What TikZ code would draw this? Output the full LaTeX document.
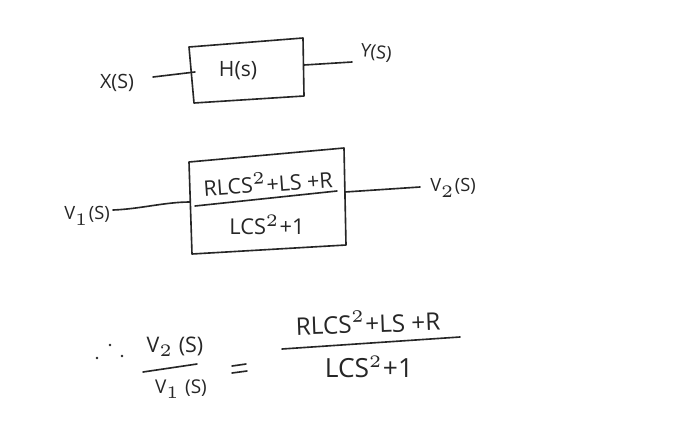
\documentclass[tikz,border=0pt]{standalone}
\usepackage{fontspec}
\setmainfont{Open Sans}
\newcommand{\handsz}[1]{\fontsize{#1}{#1}\selectfont}
\begin{document}
\begin{tikzpicture}[x=0.01cm,y=-0.01cm,
  ink/.style={draw=black!85,line width=0.46pt,line cap=round,line join=round},
  hand/.style={inner sep=0pt,text=black!85}]
\useasboundingbox[fill=white] (0,0) rectangle (700,433);
% first block
\coordinate (a1) at (189,47); \coordinate (a2) at (303,38);
\coordinate (a3) at (304,96); \coordinate (a4) at (194,103);
\draw[ink] (a1) -- (a2) -- (a3) -- (a4) -- cycle;
\node[hand,font=\handsz{6}] (hs) at (238,71) {H(s)};
\node[hand,font=\handsz{5.6}] (xs) at (117,83) {X(S)};
\node[hand,rotate=-6,font=\handsz{5.2}] (ys) at (376,53) {Y(S)};
\coordinate (xin) at (153,77); \coordinate (xbox) at (195,72);
\coordinate (ybox) at (304,65); \coordinate (yout) at (352,62);
\draw[ink] (xin) -- (xbox);
\draw[ink] (ybox) -- (yout);
% second block
\coordinate (b1) at (189,162); \coordinate (b2) at (344,148);
\coordinate (b3) at (346,245); \coordinate (b4) at (192,254);
\draw[ink] (b1) -- (b2) -- (b3) -- (b4) -- cycle;
\node[hand,rotate=4,font=\handsz{6.1}] (bn) at (268,182) {RLCS$^{2}$+LS +R};
\coordinate (bl) at (195,206); \coordinate (br) at (337,191);
\draw[ink] (bl) -- (br);
\node[hand,font=\handsz{6.2}] (bd) at (267,225) {LCS$^{2}$+1};
\node[hand,font=\handsz{5.2}] (v1) at (87,216) {V$_{1}$(S)};
\node[hand,font=\handsz{5.2}] (v2) at (453,188) {V$_{2}$(S)};
\coordinate (vin) at (113,210); \coordinate (vbox) at (190,202);
\coordinate (vboxr) at (345,192); \coordinate (vout) at (420,187);
\draw[ink] (vin) .. controls (140,209) and (165,202) .. (vbox);
\draw[ink] (vboxr) -- (vout);
% equation
\fill[black!85] (97,358) circle (1.4) (110,345) circle (1.4) (122,356) circle (1.4);
\node[hand,font=\handsz{6.1}] (n2) at (175,347) {V$_{2}$ (S)};
\coordinate (f1) at (143,372); \coordinate (f2) at (197,364);
\draw[ink] (f1) -- (f2);
\node[hand,font=\handsz{5.4}] (d1) at (181,389) {V$_{1}$ (S)};
\coordinate (e1) at (232,366); \coordinate (e2) at (246,364);
\coordinate (e3) at (232,373); \coordinate (e4) at (247,371);
\draw[ink] (e1) -- (e2);
\draw[ink] (e3) -- (e4);
\node[hand,rotate=2,font=\handsz{6.9}] (en) at (368,322) {RLCS$^{2}$+LS +R};
\coordinate (g1) at (282,349); \coordinate (g2) at (460,337);
\draw[ink] (g1) -- (g2);
\node[hand,font=\handsz{7.5}] (ed) at (369,367) {LCS$^{2}$+1};
\end{tikzpicture}
\end{document}
